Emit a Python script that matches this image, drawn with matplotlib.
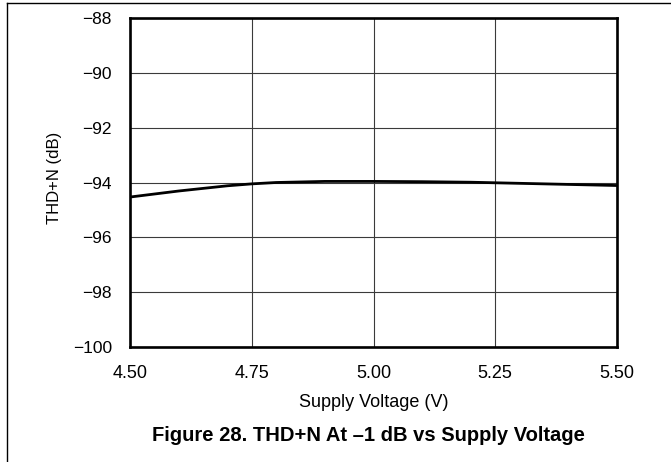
import matplotlib
matplotlib.use("Agg")
import matplotlib.pyplot as plt
from matplotlib.lines import Line2D

plt.rcParams['font.family'] = ['Liberation Sans', 'DejaVu Sans']

# supply voltage (V) and THD+N (dB)
volts = [4.50, 4.60, 4.70, 4.75, 4.80, 4.90, 5.00, 5.10, 5.20, 5.25, 5.30, 5.40, 5.50]
thdn = [-94.53, -94.31, -94.12, -94.05, -94.00, -93.96, -93.96, -93.97, -93.99,
        -94.01, -94.03, -94.07, -94.11]

xticks = [4.50, 4.75, 5.00, 5.25, 5.50]
yticks = [-100, -98, -96, -94, -92, -90, -88]

W, H = 671, 462
fig = plt.figure(figsize=(W/100, H/100), dpi=100)
ax = fig.add_axes([130/W, 1-347/H, 487/W, 329/H])

ax.plot(volts, thdn, color='black', lw=2.0, solid_capstyle='butt')
ax.set_xlim(4.5, 5.5)
ax.set_ylim(-100, -88)
ax.set_xticks(xticks)
ax.set_xticklabels(['%.2f' % v for v in xticks])
ax.set_yticks(yticks)
ax.set_yticklabels([str(v).replace('-', '\u2212') for v in yticks])
ax.tick_params(length=0)
ax.tick_params(axis='x', labelsize=13, pad=13)
ax.tick_params(axis='y', labelsize=12.5, pad=13)
ax.grid(True, color='#3a3a3a', lw=0.8)
for s in ax.spines.values():
    s.set_linewidth(1.9)
ax.set_axisbelow(True)

# axis titles and caption placed in figure pixels
fig.text(374/W, 1-407/H, 'Supply Voltage (V)', ha='center', va='baseline', fontsize=13)
fig.text(55/W, 1-178/H, 'THD+N (dB)', ha='center', va='center', rotation=90, fontsize=12)
fig.text(368/W, 1-441/H, 'Figure 28. THD+N At \u20131 dB vs Supply Voltage',
         ha='center', va='baseline', fontsize=14.5, fontweight='bold')

# page frame lines (top and left)
fig.add_artist(Line2D([7/W, 1], [1-3/H, 1-3/H], color='black', lw=1.0,
                      transform=fig.transFigure))
fig.add_artist(Line2D([7/W, 7/W], [0, 1-3/H], color='black', lw=1.0,
                      transform=fig.transFigure))

fig.savefig('out.png', dpi=100)
